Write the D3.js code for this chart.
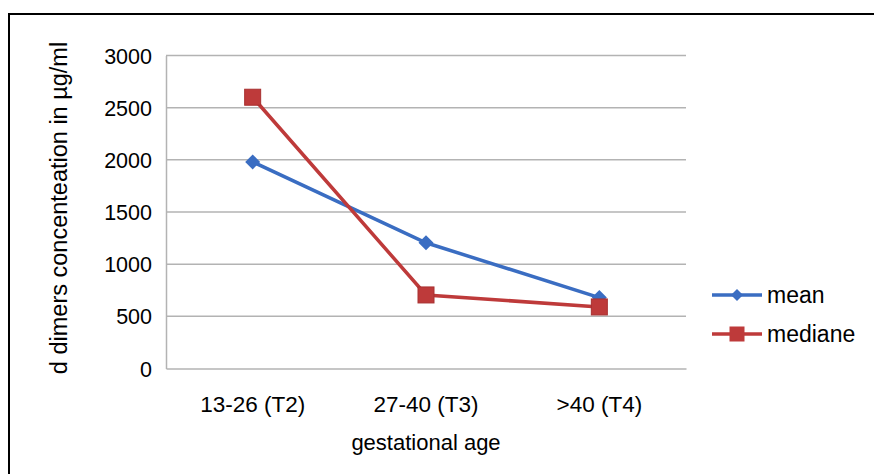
<!DOCTYPE html>
<html><head><meta charset="utf-8">
<script src="https://cdn.jsdelivr.net/npm/d3@7"></script>
<style>body{margin:0;background:#fff}svg{display:block}text{font-family:"Liberation Sans",Arial,sans-serif;fill:#000}</style>
</head><body>
<svg id="c" width="874" height="474"></svg>
<script>
const categories = ["13-26 (T2)", "27-40 (T3)", ">40 (T4)"];
const meanValues = [1980, 1205, 680];
const medianValues = [2600, 705, 590];
const yTicks = [0, 500, 1000, 1500, 2000, 2500, 3000];
const seriesNames = ["mean", "mediane"];

const svg = d3.select("#c");
const blue = "#3A6DC2", red = "#BE3A3A";
const FS = 21.5;
svg.append("path").attr("d","M9,474 L9,14 L874,14").attr("fill","none").attr("stroke","#000").attr("stroke-width",2);

const x = d3.scaleBand().domain(categories).range([166, 686]);
const y = d3.scaleLinear().domain([0, 3000]).range([368.5, 55.5]);

svg.append("g").selectAll("line").data(yTicks.filter(d=>d>0)).join("line")
  .attr("x1",166).attr("x2",686).attr("y1",d=>y(d)).attr("y2",d=>y(d))
  .attr("stroke","#b3b3b3").attr("stroke-width",1.5);

const yAxis = svg.append("g").attr("transform","translate(166,0)")
  .call(d3.axisLeft(y).tickValues(yTicks).tickFormat(d3.format("d")).tickSize(0).tickPadding(14));
yAxis.attr("font-size",FS).attr("font-family","Liberation Sans, Arial, sans-serif");
yAxis.select(".domain").attr("stroke","#b3b3b3").attr("stroke-width",1.5);
yAxis.selectAll("text").attr("dy","0.35em");

const xAxis = svg.append("g").attr("transform","translate(0,368.5)")
  .call(d3.axisBottom(x).tickSize(0).tickPadding(0));
xAxis.attr("font-size",22.5).attr("font-family","Liberation Sans, Arial, sans-serif");
xAxis.select(".domain").attr("stroke","#b3b3b3").attr("stroke-width",1.5);
xAxis.selectAll("text").attr("y",0).attr("dy","43");

svg.append("text").attr("x",426).attr("y",450).attr("text-anchor","middle").attr("font-size",22).text("gestational age");
svg.append("text").attr("transform","translate(67,208) rotate(-90)").attr("text-anchor","middle").attr("font-size",23.5).text("d dimers concenteation in µg/ml");

const cx = d => x(d) + x.bandwidth()/2;
const line = d3.line().x(d=>cx(d.c)).y(d=>y(d.v));
const meanData = categories.map((c,i)=>({c, v: meanValues[i]}));
const medData = categories.map((c,i)=>({c, v: medianValues[i]}));

const diamond = (g, px, py, s) => g.append("path").attr("d",`M${px},${py-s} L${px+s},${py} L${px},${py+s} L${px-s},${py} Z`);
const square = (g, px, py, s) => g.append("rect").attr("x",px-s).attr("y",py-s).attr("width",2*s).attr("height",2*s);

svg.append("path").datum(meanData).attr("d",line).attr("fill","none").attr("stroke",blue).attr("stroke-width",3.5);
const gm = svg.append("g").attr("fill",blue);
meanData.forEach(d=>diamond(gm, cx(d.c), y(d.v), 7.5));

svg.append("path").datum(medData).attr("d",line).attr("fill","none").attr("stroke",red).attr("stroke-width",3.5);
const gd = svg.append("g").attr("fill",red).attr("stroke","#a83030").attr("stroke-width",1);
medData.forEach(d=>square(gd, cx(d.c), y(d.v), 8));

const lg = svg.append("g");
[[blue,295],[red,334]].forEach(([col,ly],i)=>{
  lg.append("line").attr("x1",712).attr("x2",762).attr("y1",ly).attr("y2",ly).attr("stroke",col).attr("stroke-width",3.5);
  const g = lg.append("g").attr("fill",col);
  if(i===0) diamond(g,737,ly,6); else square(g,737,ly,7.5);
  lg.append("text").attr("x",767).attr("y",ly).attr("dy","0.35em").attr("font-size",23).text(seriesNames[i]);
});
</script>
</body></html>
